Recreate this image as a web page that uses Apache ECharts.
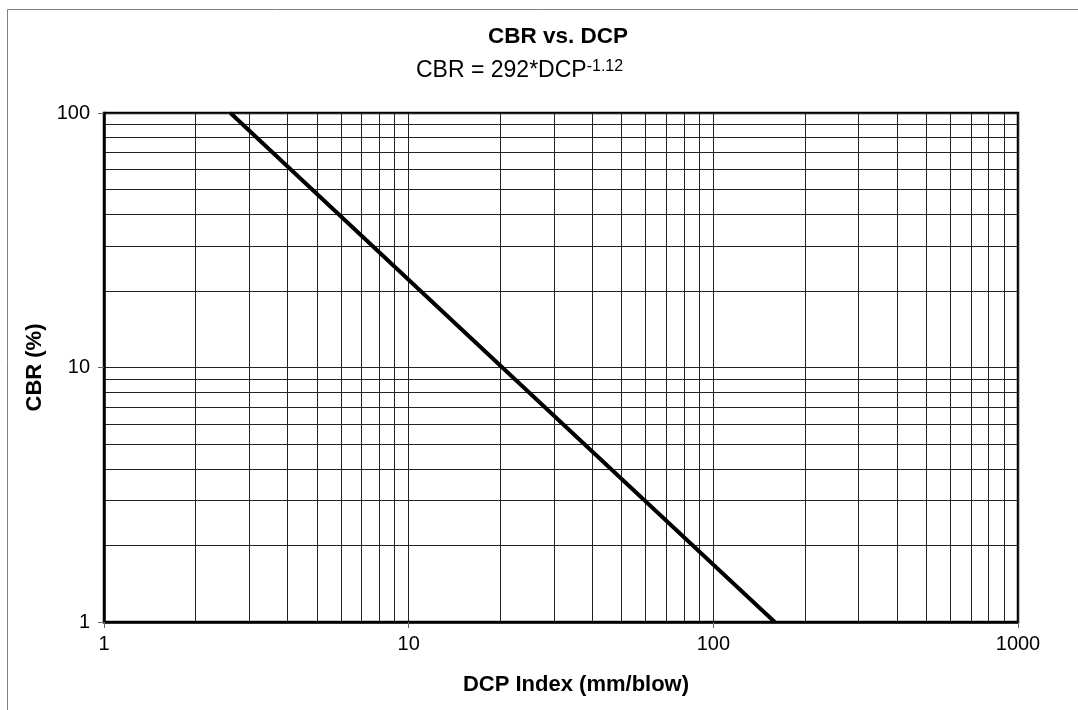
<!DOCTYPE html>
<html>
<head>
<meta charset="utf-8">
<script src="https://cdn.jsdelivr.net/npm/echarts@6/dist/echarts.min.js"></script>
<style>
html,body{margin:0;padding:0;background:#fff;}
#chart{width:1078px;height:710px;}
</style>
</head>
<body>
<div id="chart"></div>
<script>
// Data
var dcpIndex = [2.6, 20.3, 159];   // DCP Index (mm/blow)
var cbrValues = [100, 10, 1];      // CBR (%)
var xTickValues = [1, 10, 100, 1000];
var yTickValues = [1, 10, 100];

var FONT = 'Liberation Sans, Arial, sans-serif';
var chart = echarts.init(document.getElementById('chart'));

var points = dcpIndex.map(function (d, i) { return [d, cbrValues[i]]; });

chart.setOption({
  animation: false,
  backgroundColor: '#fff',
  title: [
    {
      text: 'CBR vs. DCP',
      left: 553, top: 20, textAlign: 'center',
      textStyle: { fontFamily: FONT, fontSize: 22.5, fontWeight: 'bold', color: '#000' }
    },
    {
      text: '{a|CBR = 292*DCP}{b|-1.12}',
      left: 411, top: 54,
      textStyle: {
        fontFamily: FONT, fontWeight: 'normal', color: '#000',
        rich: {
          a: { fontFamily: FONT, fontSize: 23, fontWeight: 'normal', color: '#000', verticalAlign: 'bottom' },
          b: { fontFamily: FONT, fontSize: 16, fontWeight: 'normal', color: '#000', verticalAlign: 'top' }
        }
      }
    }
  ],
  graphic: [
    {
      type: 'rect', silent: true, z: -1,
      shape: { x: 7.5, y: 9.5, width: 1200, height: 800 },
      style: { fill: 'none', stroke: '#808080', lineWidth: 1 }
    }
  ],
  grid: {
    left: 104, right: 60, top: 113, bottom: 88,
    show: true, borderColor: '#000', borderWidth: 2.5, backgroundColor: 'transparent'
  },
  xAxis: {
    type: 'log', logBase: 10, min: 1, max: 1000,
    name: 'DCP Index (mm/blow)', nameLocation: 'middle', nameGap: 52,
    nameTextStyle: { fontFamily: FONT, fontSize: 22, fontWeight: 'bold', color: '#000', padding: [0, 0, 0, 30] },
    axisLine: { show: true, lineStyle: { color: '#000', width: 2.5 } },
    axisTick: { show: true, length: 6, lineStyle: { color: '#666', width: 1 } },
    axisLabel: {
      fontFamily: FONT, fontSize: 20, color: '#000', margin: 12,
      formatter: function (v) { return xTickValues.indexOf(v) >= 0 ? String(v) : ''; }
    },
    splitLine: { show: true, lineStyle: { color: '#222', width: 1 } },
    minorTick: { show: false, splitNumber: 9 },
    minorSplitLine: { show: true, lineStyle: { color: '#222', width: 1 } }
  },
  yAxis: {
    type: 'log', logBase: 10, min: 1, max: 100,
    name: 'CBR (%)', nameLocation: 'middle', nameGap: 54,
    nameTextStyle: { fontFamily: FONT, fontSize: 22, fontWeight: 'bold', color: '#000' },
    axisLine: { show: true, lineStyle: { color: '#000', width: 2.5 } },
    axisTick: { show: true, length: 6, lineStyle: { color: '#666', width: 1 } },
    axisLabel: {
      fontFamily: FONT, fontSize: 20, color: '#000', margin: 14,
      formatter: function (v) { return yTickValues.indexOf(v) >= 0 ? String(v) : ''; }
    },
    splitLine: { show: true, lineStyle: { color: '#222', width: 1 } },
    minorTick: { show: false, splitNumber: 9 },
    minorSplitLine: { show: true, lineStyle: { color: '#222', width: 1 } }
  },
  series: [
    {
      type: 'line',
      data: points,
      symbol: 'none',
      lineStyle: { color: '#000', width: 4 },
      z: 5
    }
  ]
});
</script>
</body>
</html>
